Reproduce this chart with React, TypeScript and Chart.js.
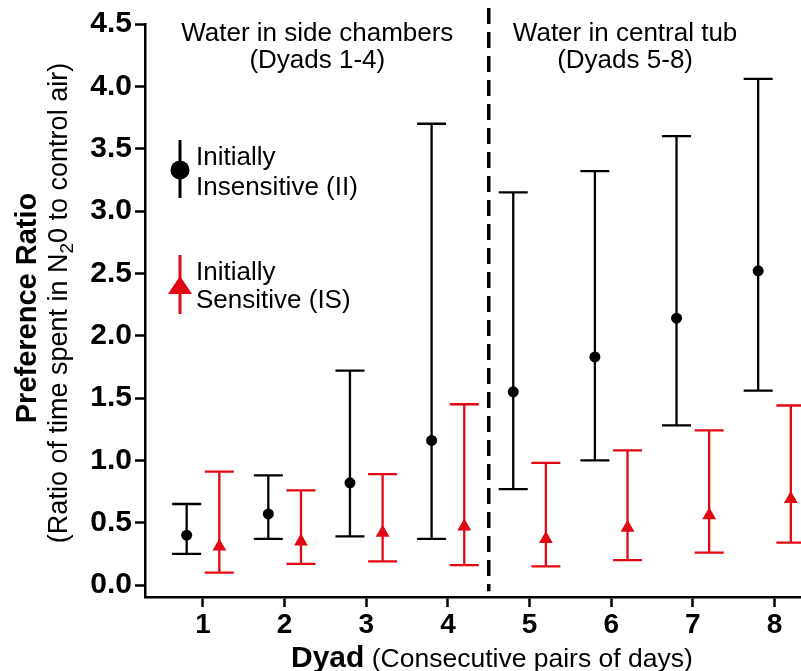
import React, { useEffect, useRef } from 'react';
import { Chart, registerables } from 'chart.js';

Chart.register(...registerables);

// ---- data ----
const dyads = [1, 2, 3, 4, 5, 6, 7, 8];
const iiMean = [0.40, 0.57, 0.82, 1.16, 1.55, 1.83, 2.14, 2.52];
const iiLow = [0.25, 0.37, 0.39, 0.37, 0.77, 1.00, 1.28, 1.56];
const iiHigh = [0.65, 0.88, 1.72, 3.70, 3.15, 3.32, 3.60, 4.06];
const isMean = [0.31, 0.35, 0.42, 0.47, 0.37, 0.46, 0.56, 0.69];
const isLow = [0.10, 0.17, 0.19, 0.16, 0.15, 0.20, 0.26, 0.34];
const isHigh = [0.91, 0.76, 0.89, 1.45, 0.98, 1.08, 1.24, 1.44];
const yTicks = [0, 0.5, 1, 1.5, 2, 2.5, 3, 3.5, 4, 4.5];
const xTicks = [1, 2, 3, 4, 5, 6, 7, 8];
const groupText = [
  ['Water in side chambers', '(Dyads 1-4)'],
  ['Water in central tub', '(Dyads 5-8)'],
];
const legendText = [
  ['Initially', 'Insensitive (II)'],
  ['Initially', 'Sensitive (IS)'],
];
const dividerAt = 4.5;

const BLACK = '#000000';
const RED = '#e30613';
const FONT = '"Liberation Sans", Arial, sans-serif';
const OFFSET = 0.2;

const series = [
  { mean: iiMean, low: iiLow, high: iiHigh, color: BLACK, off: -OFFSET },
  { mean: isMean, low: isLow, high: isHigh, color: RED, off: OFFSET },
];

const errorBarPlugin = {
  id: 'errorBars',
  beforeDatasetsDraw(chart: any) {
    const { ctx } = chart;
    const xs = chart.scales.x;
    const ys = chart.scales.y;
    ctx.save();
    series.forEach((s) => {
      ctx.strokeStyle = s.color;
      ctx.lineWidth = 2.3;
      dyads.forEach((d, i) => {
        const x = xs.getPixelForValue(d + s.off);
        const yl = ys.getPixelForValue(s.low[i]);
        const yh = ys.getPixelForValue(s.high[i]);
        ctx.beginPath();
        ctx.moveTo(x, yl);
        ctx.lineTo(x, yh);
        ctx.moveTo(x - 14.5, yl);
        ctx.lineTo(x + 14.5, yl);
        ctx.moveTo(x - 14.5, yh);
        ctx.lineTo(x + 14.5, yh);
        ctx.stroke();
      });
    });
    // dashed divider
    const xd = xs.getPixelForValue(dividerAt);
    ctx.strokeStyle = BLACK;
    ctx.lineWidth = 3.5;
    ctx.setLineDash([16, 8]);
    ctx.beginPath();
    ctx.moveTo(xd, 8);
    ctx.lineTo(xd, ys.getPixelForValue(-0.05));
    ctx.stroke();
    ctx.setLineDash([]);
    ctx.restore();
  },
};

const textPlugin = {
  id: 'texts',
  afterDraw(chart: any) {
    const { ctx } = chart;
    const xs = chart.scales.x;
    ctx.save();
    ctx.fillStyle = BLACK;
    // group annotations
    ctx.font = `26px ${FONT}`;
    ctx.textAlign = 'center';
    ctx.textBaseline = 'alphabetic';
    const centers = [xs.getPixelForValue(2.4), xs.getPixelForValue(6.17)];
    groupText.forEach((g, i) => {
      ctx.fillText(g[0], centers[i], 41);
      ctx.fillText(g[1], centers[i], 68);
    });

    // legend
    ctx.textAlign = 'left';
    ctx.font = `26px ${FONT}`;
    ctx.fillText(legendText[0][0], 196, 165);
    ctx.fillText(legendText[0][1], 196, 195);
    ctx.fillText(legendText[1][0], 196, 280);
    ctx.fillText(legendText[1][1], 196, 308);
    ctx.lineWidth = 3;
    ctx.strokeStyle = BLACK;
    ctx.beginPath();
    ctx.moveTo(180, 140);
    ctx.lineTo(180, 198);
    ctx.stroke();
    ctx.beginPath();
    ctx.arc(180, 170, 9.5, 0, Math.PI * 2);
    ctx.fill();
    ctx.strokeStyle = RED;
    ctx.fillStyle = RED;
    ctx.beginPath();
    ctx.moveTo(180, 255);
    ctx.lineTo(180, 314);
    ctx.stroke();
    ctx.beginPath();
    ctx.moveTo(180, 276);
    ctx.lineTo(192, 294);
    ctx.lineTo(168, 294);
    ctx.closePath();
    ctx.fill();

    // y title
    ctx.fillStyle = BLACK;
    ctx.save();
    ctx.translate(36, 308);
    ctx.rotate(-Math.PI / 2);
    ctx.textAlign = 'center';
    ctx.font = `bold 29px ${FONT}`;
    ctx.fillText('Preference Ratio', 0, 0);
    ctx.restore();

    ctx.save();
    ctx.translate(67, 303);
    ctx.rotate(-Math.PI / 2);
    ctx.textAlign = 'left';
    const big = `27px ${FONT}`;
    const small = `19px ${FONT}`;
    const parts: [string, string, number][] = [
      ['(Ratio of time spent in N', big, 0],
      ['2', small, 6],
      ['0 to control air)', big, 0],
    ];
    let total = 0;
    parts.forEach((p) => {
      ctx.font = p[1];
      total += ctx.measureText(p[0]).width;
    });
    let cx = -total / 2;
    parts.forEach((p) => {
      ctx.font = p[1];
      ctx.fillText(p[0], cx, p[2]);
      cx += ctx.measureText(p[0]).width;
    });
    ctx.restore();

    // x title
    ctx.textAlign = 'left';
    ctx.font = `bold 30px ${FONT}`;
    const w1 = ctx.measureText('Dyad').width;
    ctx.fillText('Dyad', 291, 667);
    ctx.font = `26.5px ${FONT}`;
    ctx.fillText(' (Consecutive pairs of days)', 291 + w1, 667);
    ctx.restore();
  },
};

export default function App() {
  const ref = useRef<HTMLCanvasElement>(null);
  useEffect(() => {
    if (!ref.current) return;
    const chart = new Chart(ref.current, {
      type: 'scatter',
      data: {
        datasets: [
          {
            label: 'Initially Insensitive (II)',
            data: dyads.map((d, i) => ({ x: d - OFFSET, y: iiMean[i] })),
            pointStyle: 'circle',
            pointRadius: 5.5,
            backgroundColor: BLACK,
            borderColor: BLACK,
            borderWidth: 0,
          },
          {
            label: 'Initially Sensitive (IS)',
            data: dyads.map((d, i) => ({ x: d + OFFSET, y: isMean[i] })),
            pointStyle: 'triangle',
            pointRadius: 8,
            backgroundColor: RED,
            borderColor: RED,
            borderWidth: 0,
          },
        ],
      },
      options: {
        animation: false,
        responsive: false,
        maintainAspectRatio: false,
        layout: { autoPadding: false, padding: { top: 24, right: 0, left: 0, bottom: 0 } },
        plugins: { legend: { display: false }, tooltip: { enabled: false } },
        scales: {
          x: {
            type: 'linear',
            min: 0.2896,
            max: 8.3246,
            afterFit: (s: any) => {
              s.height = 74;
              s.paddingLeft = 0;
              s.paddingRight = 0;
            },
            afterBuildTicks: (s: any) => { s.ticks = xTicks.map((v) => ({ value: v })); },
            grid: { drawOnChartArea: false, drawTicks: true, tickLength: 10, tickWidth: 2.5, tickColor: BLACK },
            border: { display: true, color: BLACK, width: 2.5 },
            ticks: {
              color: BLACK,
              font: { family: FONT, size: 28, weight: 'bold' },
              padding: 1,
              callback: (v: any) => String(v),
            },
          },
          y: {
            type: 'linear',
            min: -0.096,
            max: 4.5,
            afterFit: (s: any) => {
              s.width = 145;
              s.paddingTop = 0;
              s.paddingBottom = 0;
            },
            afterBuildTicks: (s: any) => { s.ticks = yTicks.map((v) => ({ value: v })); },
            grid: { drawOnChartArea: false, drawTicks: true, tickLength: 10, tickWidth: 2.5, tickColor: BLACK },
            border: { display: true, color: BLACK, width: 2.5 },
            ticks: {
              color: BLACK,
              font: { family: FONT, size: 30, weight: 'bold' },
              padding: 3,
              callback: (v: any) => Number(v).toFixed(1),
            },
          },
        },
      },
      plugins: [errorBarPlugin, textPlugin],
    });
    return () => chart.destroy();
  }, []);
  return (
    <div style={{ position: 'absolute', left: 0, top: 0, width: 801, height: 671, background: '#fff' }}>
      <canvas ref={ref} width={801} height={671} style={{ width: 801, height: 671 }} />
    </div>
  );
}
